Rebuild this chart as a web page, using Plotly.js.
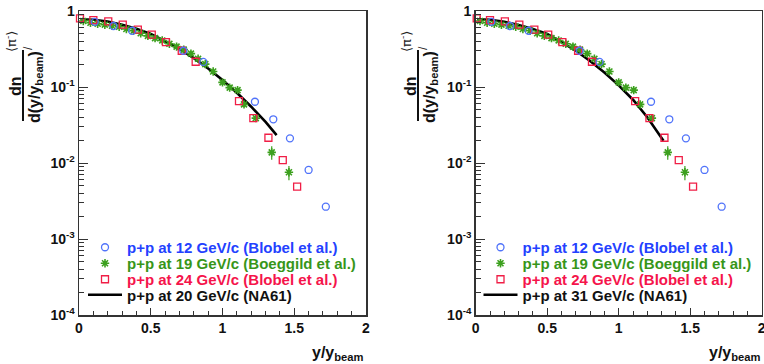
<!DOCTYPE html>
<html>
<head>
<meta charset="utf-8">
<script src="https://cdn.plot.ly/plotly-3.0.1.min.js"></script>
<style>html,body{margin:0;padding:0;background:#fff;}#chart{width:764px;height:364px;}</style>
</head>
<body>
<div id="chart"></div>
<script>
// ---- data ----
const blueName = 'p+p at 12 GeV/c (Blobel et al.)';
const greenName = 'p+p at 19 GeV/c (Boeggild et al.)';
const redName = 'p+p at 24 GeV/c (Blobel et al.)';
const lineNameLeft = 'p+p at 20 GeV/c (NA61)';
const lineNameRight = 'p+p at 31 GeV/c (NA61)';

const xBlue = [0.11, 0.24, 0.37, 0.727, 0.866, 1.226, 1.354, 1.47, 1.60, 1.72];
const yBlue = [0.72, 0.635, 0.55, 0.30, 0.214, 0.064, 0.0376, 0.0211, 0.0081, 0.00266];

const xGreen = [0.03, 0.08, 0.13, 0.18, 0.23, 0.28, 0.33, 0.38, 0.43, 0.48, 0.53, 0.58, 0.63, 0.68, 0.73, 0.78, 0.83, 0.88, 0.935, 1.00, 1.05, 1.105, 1.15, 1.232, 1.343, 1.463];
const yGreen = [0.74, 0.70, 0.68, 0.66, 0.64, 0.62, 0.58, 0.55, 0.51, 0.47, 0.44, 0.41, 0.37, 0.34, 0.31, 0.275, 0.235, 0.20, 0.16, 0.115, 0.098, 0.091, 0.059, 0.039, 0.0138, 0.00755];
const eGreen = [0.05, 0.05, 0.05, 0.05, 0.05, 0.04, 0.04, 0.04, 0.04, 0.035, 0.03, 0.03, 0.03, 0.03, 0.025, 0.02, 0.018, 0.015, 0.012, 0.009, 0.008, 0.007, 0.005, 0.004, 0.0028, 0.0016];

const xRed = [0.007, 0.10, 0.204, 0.305, 0.41, 0.507, 0.606, 0.716, 0.813, 1.115, 1.215, 1.32, 1.42, 1.52];
const yRed = [0.80, 0.76, 0.73, 0.66, 0.57, 0.49, 0.39, 0.30, 0.215, 0.065, 0.039, 0.0215, 0.0109, 0.0049];

const xLineLeft = [0.01, 0.1, 0.2, 0.3, 0.4, 0.5, 0.6, 0.7, 0.8, 0.9, 1.0, 1.1, 1.2, 1.3, 1.377];
const yLineLeft = [0.78, 0.766, 0.726, 0.66, 0.585, 0.50, 0.40, 0.316, 0.24, 0.175, 0.124, 0.084, 0.055, 0.0347, 0.0233];

const xLineRight = [0.01, 0.1, 0.2, 0.3, 0.4, 0.5, 0.6, 0.7, 0.8, 0.9, 1.0, 1.1, 1.2, 1.313];
const yLineRight = [0.78, 0.765, 0.72, 0.655, 0.58, 0.50, 0.39, 0.30, 0.22, 0.155, 0.105, 0.068, 0.040, 0.0196];

const xTickVals = [0, 0.5, 1, 1.5, 2];
const xTickText = ['0', '0.5', '1', '1.5', '2'];
const yTickVals = [1e-4, 1e-3, 1e-2, 1e-1, 1];
const yTickText = ['10<sup>-4</sup>', '10<sup>-3</sup>', '10<sup>-2</sup>', '10<sup>-1</sup>', '1'];

// ---- styling ----
const W = 764, H = 364;
const FONT = 'Liberation Sans, Arial, Helvetica, sans-serif';
const cBlueM = 'rgb(80,115,250)', cBlueT = 'rgb(35,65,255)';
const cGreenM = 'rgb(60,160,30)', cGreenT = 'rgb(55,150,25)';
const cRedM = 'rgb(240,30,70)', cRedT = 'rgb(245,20,75)';

const yMinor = [];
for (let k = -4; k < 0; k++) for (let m = 2; m <= 9; m++) yMinor.push(m * Math.pow(10, k));

function px(x) { return x / W; }
function py(y) { return 1 - y / H; }

function panelTraces(xa, ya, lx, ly, lineName, legBase) {
  return [
    {x: lx, y: ly, xaxis: xa, yaxis: ya, mode: 'lines', name: lineName, legend: legBase[3],
     line: {color: 'black', width: 2.6}, cliponaxis: false},
    {x: xGreen, y: yGreen, xaxis: xa, yaxis: ya, mode: 'markers', name: greenName, legend: legBase[1],
     marker: {symbol: 'asterisk-open', size: 7, color: cGreenM, line: {color: cGreenM, width: 1.6}},
     error_y: {type: 'data', array: eGreen, visible: true, color: cGreenM, thickness: 1.2, width: 0}, cliponaxis: false},
    {x: xRed, y: yRed, xaxis: xa, yaxis: ya, mode: 'markers', name: redName, legend: legBase[2],
     marker: {symbol: 'square-open', size: 7, color: cRedM, line: {color: cRedM, width: 1.3}}, cliponaxis: false},
    {x: xBlue, y: yBlue, xaxis: xa, yaxis: ya, mode: 'markers', name: blueName, legend: legBase[0],
     marker: {symbol: 'circle-open', size: 7, color: cBlueM, line: {color: cBlueM, width: 1.3}}, cliponaxis: false}
  ];
}

const traces = [].concat(
  panelTraces('x', 'y', xLineLeft, yLineLeft, lineNameLeft, ['legend', 'legend2', 'legend3', 'legend4']),
  panelTraces('x2', 'y2', xLineRight, yLineRight, lineNameRight, ['legend5', 'legend6', 'legend7', 'legend8'])
);

function xaxisDef(d0, d1, anchor) {
  return {domain: [px(d0), px(d1)], anchor: anchor, range: [0, 2], tickmode: 'array', tickvals: xTickVals, ticktext: xTickText,
    ticks: 'inside', ticklen: 7, tickwidth: 1, tickcolor: '#333', showline: true, linecolor: '#333', linewidth: 1.5, mirror: true,
    showgrid: false, zeroline: false, ticklabeloverflow: 'allow',
    tickfont: {family: FONT, size: 14, weight: 'bold', color: '#111'},
    minor: {ticks: 'inside', ticklen: 4, dtick: 0.1, tickcolor: '#333', tickwidth: 1, showgrid: false}};
}
function yaxisDef(anchor) {
  return {domain: [py(315), py(11)], anchor: anchor, type: 'log', range: [-4, 0], tickmode: 'array', tickvals: yTickVals, ticktext: yTickText,
    ticks: 'inside', ticklen: 9, tickwidth: 1, tickcolor: '#333', showline: true, linecolor: '#333', linewidth: 1.5, mirror: true,
    showgrid: false, zeroline: false, tickfont: {family: FONT, size: 14, weight: 'bold', color: '#111'},
    minor: {ticks: 'inside', ticklen: 5, tickmode: 'array', tickvals: yMinor, tickcolor: '#333', tickwidth: 1, showgrid: false}};
}

function leg(symCx, cy, color) {
  return {x: px(symCx - 20), y: py(cy), xanchor: 'left', yanchor: 'middle', bgcolor: 'rgba(0,0,0,0)', borderwidth: 0,
    itemwidth: 34, font: {family: FONT, size: 15, weight: 'bold', color: color}};
}

const annotations = [];
const shapes = [];
function yTitle(dx) {
  annotations.push({xref: 'paper', yref: 'paper', x: px(15 + dx), y: py(86), text: 'dn', textangle: -90, showarrow: false,
    xanchor: 'center', yanchor: 'middle', font: {family: FONT, size: 16, weight: 'bold', color: '#111'}});
  annotations.push({xref: 'paper', yref: 'paper', x: px(35 + dx), y: py(87), text: 'd(y/y<sub>beam</sub>)', textangle: -90, showarrow: false,
    xanchor: 'center', yanchor: 'middle', font: {family: FONT, size: 16, weight: 'bold', color: '#111'}});
  annotations.push({xref: 'paper', yref: 'paper', x: px(11 + dx), y: py(42), text: '⟨π<sup>-</sup>⟩', textangle: -90, showarrow: false,
    xanchor: 'center', yanchor: 'middle', font: {family: 'DejaVu Sans, sans-serif', size: 13, color: '#222'}});
  annotations.push({xref: 'paper', yref: 'paper', x: px(28 + dx), y: py(48), text: '/', textangle: -90, showarrow: false,
    xanchor: 'center', yanchor: 'middle', font: {family: FONT, size: 12, color: '#222'}});
  shapes.push({type: 'line', xref: 'paper', yref: 'paper', x0: px(23 + dx), x1: px(23 + dx), y0: py(50), y1: py(121),
    line: {color: '#111', width: 2}});
}
yTitle(0);
yTitle(395);
function xTitle(rightPx) {
  annotations.push({xref: 'paper', yref: 'paper', x: px(rightPx), y: py(365), text: 'y/y<sub>beam</sub>', showarrow: false,
    xanchor: 'right', yanchor: 'bottom', font: {family: FONT, size: 16, weight: 'bold', color: '#111'}});
}
xTitle(366);
xTitle(763);

const layout = {
  width: W, height: H, margin: {l: 0, r: 0, t: 0, b: 0}, paper_bgcolor: 'white', plot_bgcolor: 'white',
  showlegend: true,
  xaxis: xaxisDef(79, 366, 'y'), yaxis: yaxisDef('x'),
  xaxis2: xaxisDef(475.7, 761.7, 'y2'), yaxis2: yaxisDef('x2'),
  legend: leg(103, 247.5, cBlueT), legend2: leg(103, 263.5, cGreenT), legend3: leg(103, 279.5, cRedT), legend4: leg(103, 295, '#111'),
  legend5: leg(498.5, 247.5, cBlueT), legend6: leg(498.5, 263.5, cGreenT), legend7: leg(498.5, 279.5, cRedT), legend8: leg(498.5, 295, '#111'),
  annotations: annotations, shapes: shapes
};

Plotly.newPlot('chart', traces, layout, {staticPlot: true, displayModeBar: false});
</script>
</body>
</html>
